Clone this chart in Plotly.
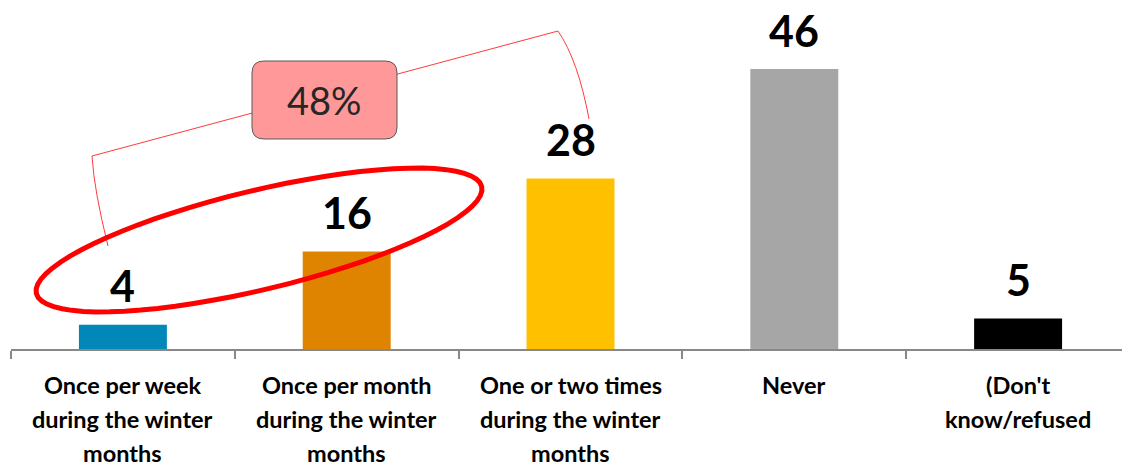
import math
import plotly.graph_objects as go

categories = ["Once per week during the winter months",
              "Once per month during the winter months",
              "One or two times during the winter months",
              "Never",
              "(Don't know/refused"]
label_lines = [["Once per week", "during the winter", "months"],
               ["Once per month", "during the winter", "months"],
               ["One or two times", "during the winter", "months"],
               ["Never"],
               ["(Don't", "know/refused"]]
values = [4, 16, 28, 46, 5]
bar_colors = ["#0288B8", "#DF8400", "#FFC000", "#A6A6A6", "#000000"]
callout_text = "48%"

W, H = 1130, 467
OFF = 8  # page body margin
ML, MR, MT, MB = 11 - OFF, OFF, 33 - OFF, 118 + OFF
PW, PH = W - ML - MR, H - MT - MB


def px(x):
    return (x - OFF - ML) / PW


def py(y):
    return (H - MB - (y - OFF)) / PH


fig = go.Figure(go.Bar(x=categories, y=values, marker_color=bar_colors,
                       marker_line_width=0, showlegend=False))

ann = []
for c, v in zip(categories, values):
    ann.append(dict(x=c, y=v, xref="x", yref="y", text="<b>%d</b>" % v, showarrow=False,
                    yanchor="middle", yshift=39,
                    font=dict(family="Lato", size=43, color="#000000")))
for c, lines in zip(categories, label_lines):
    for i, t in enumerate(lines):
        ann.append(dict(x=c, y=0, xref="x", yref="y", text="<b>%s</b>" % t, showarrow=False,
                        yanchor="middle", yshift=-36 - 34 * i,
                        font=dict(family="Lato", size=23.5, color="#000000")))

# brace connecting the first three bars
brace = "M %f,%f Q %f,%f %f,%f L %f,%f Q %f,%f %f,%f" % (
    px(108), py(246), px(94), py(190), px(92), py(156),
    px(558), py(31), px(578), py(60), px(589), py(119))

# rounded callout box
bx0, bx1, by0, by1, r = 252, 397, 61, 139, 12
box = ("M %f,%f L %f,%f Q %f,%f %f,%f L %f,%f Q %f,%f %f,%f "
       "L %f,%f Q %f,%f %f,%f L %f,%f Q %f,%f %f,%f Z") % (
    px(bx0 + r), py(by0), px(bx1 - r), py(by0), px(bx1), py(by0), px(bx1), py(by0 + r),
    px(bx1), py(by1 - r), px(bx1), py(by1), px(bx1 - r), py(by1),
    px(bx0 + r), py(by1), px(bx0), py(by1), px(bx0), py(by1 - r),
    px(bx0), py(by0 + r), px(bx0), py(by0), px(bx0 + r), py(by0))

# tilted ellipse around the first two bars
cx, cy, a, b, th = 259, 240, 229, 49.5, math.radians(13.5)
pts = []
for k in range(73):
    t = 2 * math.pi * k / 72
    ex = cx + a * math.cos(t) * math.cos(th) + b * math.sin(t) * math.sin(th)
    ey = cy - a * math.cos(t) * math.sin(th) + b * math.sin(t) * math.cos(th)
    pts.append("%f,%f" % (px(ex), py(ey)))
ellipse = "M " + " L ".join(pts) + " Z"

shapes = [
    dict(type="path", xref="paper", yref="paper", path=brace,
         line=dict(color="#FF3B3B", width=1)),
    dict(type="path", xref="paper", yref="paper", path=box,
         fillcolor="#FF9999", line=dict(color="#595959", width=1)),
    dict(type="path", xref="paper", yref="paper", path=ellipse,
         line=dict(color="#FF0000", width=5)),
]
ann.append(dict(x=px((bx0 + bx1) / 2), y=py((by0 + by1) / 2), xref="paper", yref="paper",
                text=callout_text, showarrow=False, xanchor="center", yanchor="middle",
                font=dict(family="Lato", size=38, color="#262626")))

fig.update_layout(
    width=W, height=H,
    margin=dict(l=ML, r=MR, t=MT, b=MB),
    paper_bgcolor="white", plot_bgcolor="white",
    bargap=0.607,
    shapes=shapes, annotations=ann,
    xaxis=dict(showticklabels=False, showline=True, linecolor="#888888", linewidth=2,
               ticks="outside", tickson="boundaries", ticklen=8, tickcolor="#888888",
               tickwidth=2, showgrid=False, fixedrange=True),
    yaxis=dict(range=[0, PH / 6.087], visible=False, showgrid=False, fixedrange=True),
)
fig.write_html("out.html")
